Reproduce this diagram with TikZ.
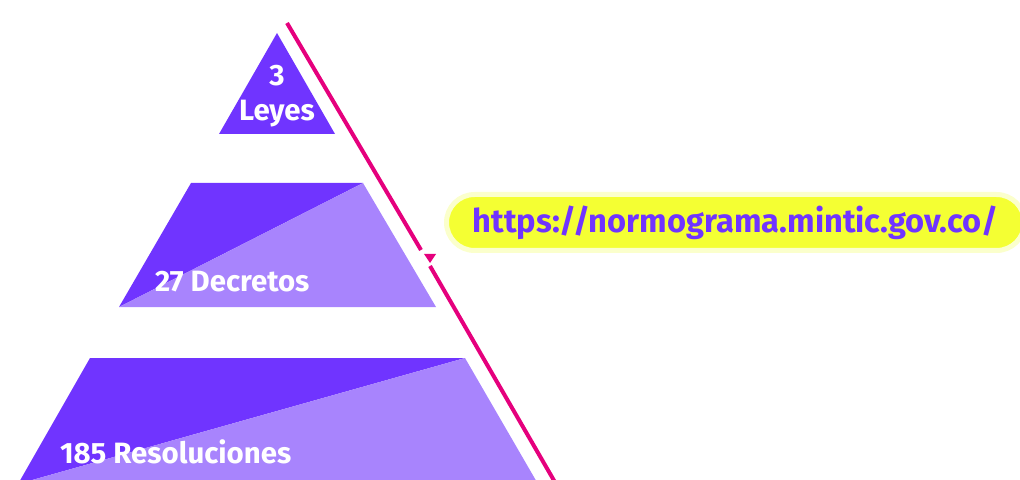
\documentclass[tikz,border=0pt]{standalone}
\usepackage{fontspec}
\setmainfont{Fira Sans}
\usetikzlibrary{positioning}
\tikzset{dadpx/.style={x=0.5pt,y=-0.5pt,every node/.style={inner sep=0pt,outer sep=0pt,anchor=center,align=center}}}
\definecolor{pirfuerte}{HTML}{7034FF}
\definecolor{pirsuave}{HTML}{A884FD}
\definecolor{ejerosa}{HTML}{E5007D}
\definecolor{urlfondo}{HTML}{F4FF33}
\definecolor{urlhalo}{HTML}{FBFFCC}
\tikzset{
  nivel/.style={fill=pirfuerte},
  nivelclaro/.style={fill=pirsuave},
  rotulo/.style={font=\fontsize{14.7}{17.5}\selectfont\bfseries,text=white},
  eje/.style={draw=ejerosa,line width=2pt},
  marca/.style={fill=ejerosa},
}

\begin{document}
\begin{tikzpicture}[dadpx,
  enlace/.style={fill=urlfondo,draw=urlhalo,line width=2.5pt,rounded corners=14pt,
    minimum width=289pt,minimum height=28pt,text=pirfuerte,font=\fontsize{16.3}{18}\selectfont\bfseries}]
  \useasboundingbox (0,0) rectangle (1020,480);
  % --- nivel superior: leyes
  \fill[nivel] (277,33) -- (335,134) -- (219,134) -- cycle;
  \node[rotulo] (leyes) at (277,96) {3\\Leyes};
  % --- nivel medio: decretos
  \fill[nivel] (191,183) -- (363,183) -- (119,307) -- cycle;
  \fill[nivelclaro] (363,183) -- (436,307) -- (119,307) -- cycle;
  \node[rotulo,anchor=west] (decretos) at (155,282) {27 Decretos};
  % --- nivel inferior: resoluciones
  \fill[nivel] (90,358) -- (465,358) -- (18,484) -- cycle;
  \fill[nivelclaro] (465,358) -- (538,484) -- (18,484) -- cycle;
  \node[rotulo,anchor=west] (resoluciones) at (60,452) {185 Resoluciones};
  % --- eje rosa con marca
  \coordinate (ejeA) at (287,23);
  \coordinate (ejeB) at (421,250);
  \coordinate (ejeC) at (430,266);
  \coordinate (ejeD) at (556,484);
  \draw[eje] (ejeA) -- (ejeB);
  \draw[eje] (ejeC) -- (ejeD);
  \fill[marca] (424,254) -- (436,254) -- (430,263) -- cycle;
  % --- enlace al normograma
  \node[enlace] (normograma) at (735.5,222.5) {https://normograma.mintic.gov.co/};
\end{tikzpicture}
\end{document}
